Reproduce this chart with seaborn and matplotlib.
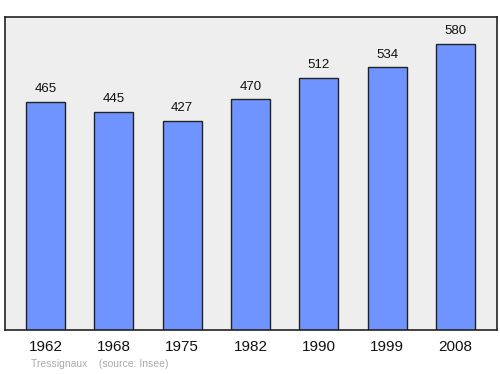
import matplotlib
matplotlib.use("Agg")
import matplotlib.pyplot as plt
import seaborn as sns
import pandas as pd

years = ["1962", "1968", "1975", "1982", "1990", "1999", "2008"]
population = [465, 445, 427, 470, 512, 534, 580]
source_text = "Tressignaux    (source: Insee)"

df = pd.DataFrame({"year": years, "pop": population})

sns.set_style("white")
plt.rcParams["font.family"] = ["Liberation Sans", "DejaVu Sans"]

fig = plt.figure(figsize=(5, 3.74), dpi=100)
ax = fig.add_axes([0.01, 44 / 374, 492 / 500, 313 / 374])
ax.set_facecolor("#eeeeee")

sns.barplot(data=df, x="year", y="pop", ax=ax, color="#7094ff",
            saturation=1, width=0.571, edgecolor="#222222", linewidth=1)

for i, v in enumerate(population):
    ax.annotate(str(v), (i, v), xytext=(0, 9), textcoords="offset points",
                ha="center", va="center", fontsize=9.5, color="#111111")

ax.set_xlim(-0.593, 6.607)
ax.set_ylim(8, 634)
ax.set_yticks([])
ax.set_xlabel("")
ax.set_ylabel("")
ax.tick_params(axis="x", length=0, pad=7.5, labelsize=11, labelcolor="#111111")
for s in ax.spines.values():
    s.set_visible(True)
    s.set_color("#222222")
    s.set_linewidth(1.2)

fig.text(31 / 500, 1 - 364 / 374, source_text, fontsize=7.5, color="#aaaaaa",
         ha="left", va="center")

fig.savefig("out.png", dpi=100)
